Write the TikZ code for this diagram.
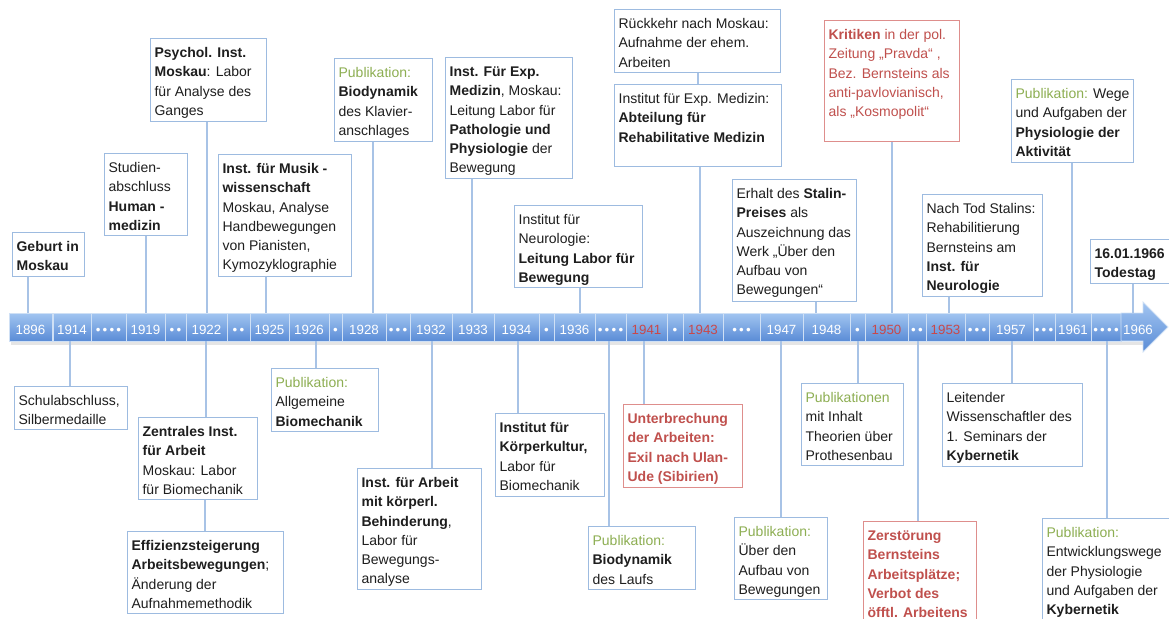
\documentclass[tikz,border=0pt]{standalone}
\usepackage{fontspec}
\setmainfont{Liberation Sans}
\definecolor{boxblue}{HTML}{9DBBE0}
\definecolor{boxred}{HTML}{DE8E8C}
\definecolor{connblue}{HTML}{A8C3E6}
\definecolor{txtblack}{HTML}{1E1E1E}
\definecolor{txtred}{HTML}{C0504D}
\definecolor{pubgreen}{HTML}{8DAE52}
\definecolor{barTop}{HTML}{A2C5F1}
\definecolor{barBot}{HTML}{5A8CD6}
\definecolor{cellline}{HTML}{CFE0F5}
\definecolor{yrred}{HTML}{C8484A}
\tikzset{
  bx/.style={draw=boxblue, line width=0.9pt, fill=white, inner sep=3pt, anchor=north west, text=txtblack},
  rbx/.style={bx, draw=boxred, text=txtred},
  conn/.style={draw=connblue, line width=1pt},
  cellst/.style={top color=barTop, bottom color=barBot, draw=cellline, line width=0.6pt, inner sep=0pt,
    font=\fontsize{10}{12}\selectfont, text height=10.8pt, text depth=0pt},
  yrlabel/.style={inner sep=0pt, font=\fontsize{10}{12}\selectfont, text height=10.8pt, text depth=0pt, text=white},
}
\newcommand\pub{\textcolor{pubgreen}{Publikation:}}
\newcommand\tbox[7]{%
  \pgfmathsetmacro\bw{(#5-#3)*0.75-6}%
  \pgfmathsetmacro\bh{(#6-#4)*0.75-6}%
  \node[#2] (#1) at (#3,#4) {\parbox[t][\bh pt][t]{\bw pt}{\raggedright\fontsize{10.5}{14.4}\selectfont\rule{0pt}{11.3pt}#7}};%
}
\newcommand\cell[5]{%
  \pgfmathsetmacro\cw{(#3-#2)*0.75}%
  \node[cellst, minimum width=\cw pt, minimum height=21pt, text=#5] (#1) at ({(#2+#3)/2},327) {#4};%
}
\begin{document}
\begin{tikzpicture}[x=0.75pt, y=-0.75pt]
\useasboundingbox (0,0) rectangle (1169,618);
\clip (0,0) rectangle (1169,618);

% ---------- bar ----------
\fill[black!10] (11,342) rectangle (1145,345);
\cell{c1}{9}{52}{1896}{white}
\cell{c2}{53}{91}{1914}{white}
\cell{c3}{91}{126}{•\,•\,•\,•}{white}
\cell{c4}{126}{165}{1919}{white}
\cell{c5}{165}{186}{•\,•}{white}
\cell{c6}{186}{227}{1922}{white}
\cell{c7}{227}{250}{•\,•}{white}
\cell{c8}{250}{289}{1925}{white}
\cell{c9}{289}{329}{1926}{white}
\cell{c10}{329}{342}{•}{white}
\cell{c11}{342}{386}{1928}{white}
\cell{c12}{386}{410}{•\,•\,•}{white}
\cell{c13}{410}{452}{1932}{white}
\cell{c14}{452}{494}{1933}{white}
\cell{c15}{494}{539}{1934}{white}
\cell{c16}{539}{554}{•}{white}
\cell{c17}{554}{595}{1936}{white}
\cell{c18}{595}{626}{•\,•\,•\,•}{white}
\cell{c19}{626}{667}{1941}{yrred}
\cell{c20}{667}{683}{•}{white}
\cell{c21}{683}{723}{1943}{yrred}
\cell{c22}{723}{760}{•\,•\,•}{white}
\cell{c23}{760}{803}{1947}{white}
\cell{c24}{803}{850}{1948}{white}
\cell{c25}{850}{865}{•}{white}
\cell{c26}{865}{908}{1950}{yrred}
\cell{c27}{908}{926}{•\,•}{white}
\cell{c28}{926}{965}{1953}{yrred}
\cell{c29}{965}{989}{•\,•\,•}{white}
\cell{c30}{989}{1033}{1957}{white}
\cell{c31}{1033}{1055}{•\,•\,•}{white}
\cell{c32}{1055}{1091}{1961}{white}
\cell{c33}{1091}{1121}{•\,•\,•\,•}{white}
\shade[top color=barTop, bottom color=barBot, draw=cellline, line width=0.6pt]
  (1121,313) -- (1143,313) -- (1143,302) -- (1168,327) -- (1143,352) -- (1143,341) -- (1121,341) -- cycle;
\coordinate (c34) at (1132,313);
\node[yrlabel] (l34) at (1138,327) {1966};

% ---------- boxes above ----------
\tbox{A1}{bx}{12}{232}{84}{276}{\textbf{Geburt in}\\\textbf{Moskau}}
\tbox{A2}{bx}{104}{153}{187}{235}{Studien-\\abschluss\\\textbf{Human -}\\\textbf{medizin}}
\tbox{A3}{bx}{150}{38}{266}{121}{\textbf{Psychol. Inst.}\\\textbf{Moskau}: Labor\\für Analyse des\\Ganges}
\tbox{A4}{bx}{218}{154}{351}{276}{\textbf{Inst. für Musik -}\\\textbf{wissenschaft}\\Moskau, Analyse\\Handbewegungen\\von Pianisten,\\Kymozyklographie}
\tbox{A5}{bx}{334}{58}{432}{141}{\pub\\\textbf{Biodynamik}\\des Klavier-\\anschlages}
\tbox{A6}{bx}{445}{57}{572}{178}{\textbf{Inst. Für Exp.}\\\textbf{Medizin}, Moskau:\\Leitung Labor für\\\textbf{Pathologie und}\\\textbf{Physiologie} der\\Bewegung}
\tbox{A7}{bx}{514}{205}{642}{287}{Institut für\\Neurologie:\\\textbf{Leitung Labor für}\\\textbf{Bewegung}}
\tbox{A8}{bx}{614}{9}{780}{72}{Rückkehr nach Moskau:\\Aufnahme der ehem.\\Arbeiten}
\tbox{A9}{bx}{614}{84}{781}{166}{Institut für Exp. Medizin:\\\textbf{Abteilung für}\\\textbf{Rehabilitative Medizin}}
\tbox{A10}{bx}{732}{179}{856}{301}{Erhalt des \textbf{Stalin-}\\\textbf{Preises} als\\Auszeichnung das\\Werk „Über den\\Aufbau von\\Bewegungen“}
\tbox{A11}{rbx}{824}{20}{959}{141}{\textbf{Kritiken} in der pol.\\Zeitung „Pravda“ ,\\Bez. Bernsteins als\\anti-pavlovianisch,\\als „Kosmopolit“}
\tbox{A12}{bx}{922}{194}{1042}{296}{Nach Tod Stalins:\\Rehabilitierung\\Bernsteins am\\\textbf{Inst. für}\\\textbf{Neurologie}}
\tbox{A13}{bx}{1011}{79}{1133}{162}{\pub{} Wege\\und Aufgaben der\\\textbf{Physiologie der}\\\textbf{Aktivität}}
\tbox{A14}{bx}{1090}{239}{1176}{283}{\textbf{16.01.1966}\\\textbf{Todestag}}

% ---------- boxes below ----------
\tbox{B1}{bx}{14}{386}{127}{429}{Schulabschluss,\\Silbermedaille}
\tbox{B2}{bx}{138}{417}{257}{499}{\textbf{Zentrales Inst.}\\\textbf{für Arbeit}\\Moskau: Labor\\für Biomechanik}
\tbox{B3}{bx}{127}{531}{283}{613}{\textbf{Effizienzsteigerung}\\\textbf{Arbeitsbewegungen};\\Änderung der\\Aufnahmemethodik}
\tbox{B4}{bx}{271}{368}{378}{431}{\pub\\Allgemeine\\\textbf{Biomechanik}}
\tbox{B5}{bx}{357}{468}{481}{589}{\textbf{Inst. für Arbeit}\\\textbf{mit körperl.}\\\textbf{Behinderung},\\Labor für\\Bewegungs-\\analyse}
\tbox{B6}{bx}{495}{413}{604}{496}{\textbf{Institut für}\\\textbf{Körperkultur,}\\Labor für\\Biomechanik}
\tbox{B7}{bx}{588}{526}{695}{589}{\pub\\\textbf{Biodynamik}\\des Laufs}
\tbox{B8}{rbx}{623}{404}{742}{487}{\textbf{Unterbrechung}\\\textbf{der Arbeiten:}\\\textbf{Exil nach Ulan-}\\\textbf{Ude (Sibirien)}}
\tbox{B9}{bx}{734}{517}{827}{599}{\pub\\Über den\\Aufbau von\\Bewegungen}
\tbox{B10}{bx}{801}{383}{903}{465}{\textcolor{pubgreen}{Publikationen}\\mit Inhalt\\Theorien über\\Prothesenbau}
\tbox{B11}{rbx}{863}{521}{976}{640}{\textbf{Zerstörung}\\\textbf{Bernsteins}\\\textbf{Arbeitsplätze;}\\\textbf{Verbot des}\\\textbf{öfftl. Arbeitens}}
\tbox{B12}{bx}{942}{383}{1082}{466}{Leitender\\Wissenschaftler des\\1. Seminars der\\\textbf{Kybernetik}}
\tbox{B13}{bx}{1042}{518}{1176}{640}{\pub\\Entwicklungswege\\der Physiologie\\und Aufgaben der\\\textbf{Kybernetik}}

% ---------- connectors ----------
\draw[conn] (A1.south -| 28,0) -- (c1.north -| 28,0);
\draw[conn] (A2.south -| 146,0) -- (c4.north -| 146,0);
\draw[conn] (A3.south -| 207,0) -- (c6.north -| 207,0);
\draw[conn] (A4.south -| 266,0) -- (c8.north -| 266,0);
\draw[conn] (A5.south -| 373,0) -- (c11.north -| 373,0);
\draw[conn] (A6.south -| 472,0) -- (c14.north -| 472,0);
\draw[conn] (A7.south -| 580,0) -- (c17.north -| 580,0);
\draw[conn] (A8.south -| 698,0) -- (A9.north -| 698,0);
\draw[conn] (A9.south -| 700,0) -- (c21.north -| 700,0);
\draw[conn] (A10.south -| 816,0) -- (c24.north -| 816,0);
\draw[conn] (A11.south -| 892,0) -- (c26.north -| 892,0);
\draw[conn] (A12.south -| 949,0) -- (c28.north -| 949,0);
\draw[conn] (A13.south -| 1072,0) -- (c32.north -| 1072,0);
\draw[conn] (A14.south -| 1133,0) -- (c34 -| 1133,0);

\draw[conn] (c2.south -| 70,0) -- (B1.north -| 70,0);
\draw[conn] (c6.south -| 206,0) -- (B2.north -| 206,0);
\draw[conn] (B2.south -| 205,0) -- (B3.north -| 205,0);
\draw[conn] (c9.south -| 316,0) -- (B4.north -| 316,0);
\draw[conn] (c13.south -| 432,0) -- (B5.north -| 432,0);
\draw[conn] (c15.south -| 518,0) -- (B6.north -| 518,0);
\draw[conn] (c18.south -| 609,0) -- (B7.north -| 609,0);
\draw[conn] (c19.south -| 644,0) -- (B8.north -| 644,0);
\draw[conn] (c23.south -| 781,0) -- (B9.north -| 781,0);
\draw[conn] (c25.south -| 858,0) -- (B10.north -| 858,0);
\draw[conn] (c27.south -| 918,0) -- (B11.north -| 918,0);
\draw[conn] (c30.south -| 1012,0) -- (B12.north -| 1012,0);
\draw[conn] (c33.south -| 1107,0) -- (B13.north -| 1107,0);
\end{tikzpicture}
\end{document}
